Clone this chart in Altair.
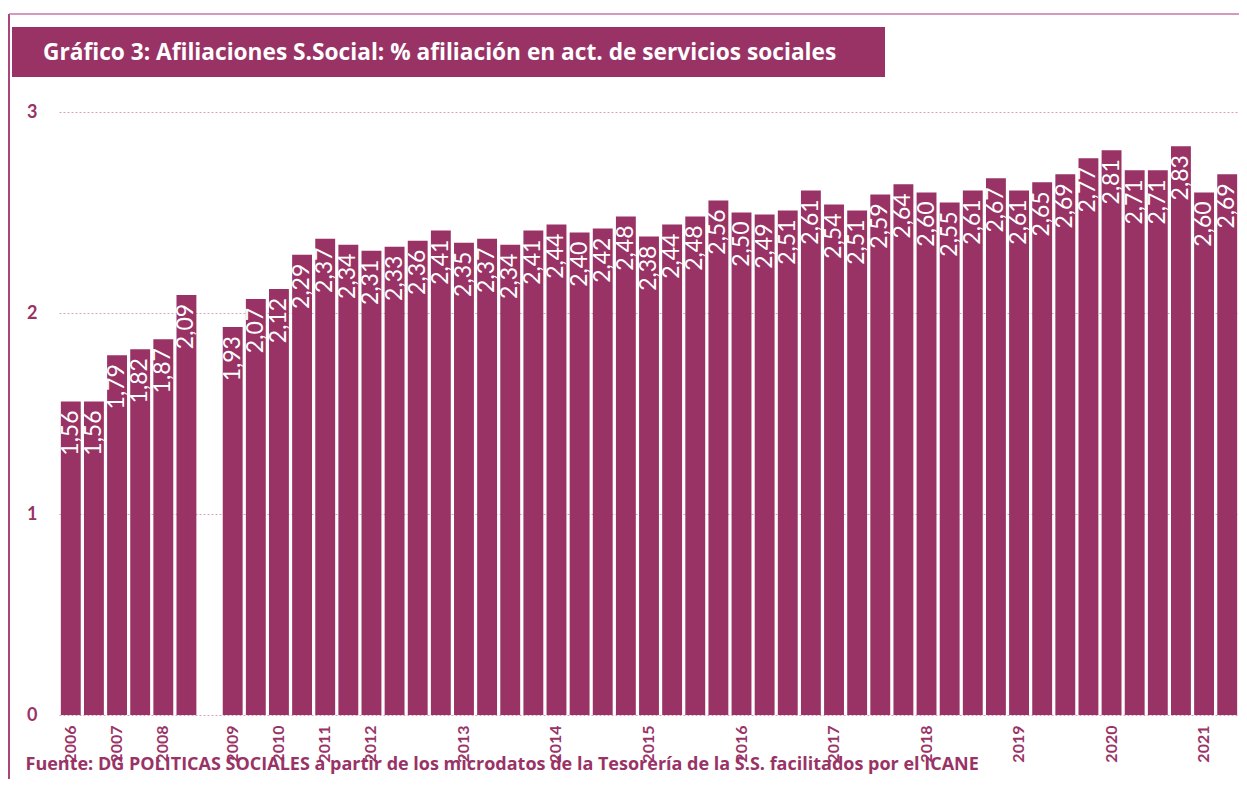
import altair as alt
import pandas as pd

PLUM = "#993366"

title_text = "Gráfico 3: Afiliaciones S.Social: % afiliación en act. de servicios sociales"
source_text = ("Fuente: DG POLITICAS SOCIALES a partir de los microdatos de la Tesorería "
               "de la S.S. facilitados por el ICANE")

# one slot per bar (semesters up to 2011, one empty slot, quarters from 2012)
periods = [
    "2006 S1", "2006 S2", "2007 S1", "2007 S2", "2008 S1", "2008 S2", " ",
    "2009 S1", "2009 S2", "2010 S1", "2010 S2", "2011 S1", "2011 S2",
    "2012 T1", "2012 T2", "2012 T3", "2012 T4",
    "2013 T1", "2013 T2", "2013 T3", "2013 T4",
    "2014 T1", "2014 T2", "2014 T3", "2014 T4",
    "2015 T1", "2015 T2", "2015 T3", "2015 T4",
    "2016 T1", "2016 T2", "2016 T3", "2016 T4",
    "2017 T1", "2017 T2", "2017 T3", "2017 T4",
    "2018 T1", "2018 T2", "2018 T3", "2018 T4",
    "2019 T1", "2019 T2", "2019 T3", "2019 T4",
    "2020 T1", "2020 T2", "2020 T3", "2020 T4",
    "2021 T1", "2021 T2",
]

values = [
    1.56, 1.56, 1.79, 1.82, 1.87, 2.09, None,
    1.93, 2.07, 2.12, 2.29, 2.37, 2.34,
    2.31, 2.33, 2.36, 2.41,
    2.35, 2.37, 2.34, 2.41,
    2.44, 2.40, 2.42, 2.48,
    2.38, 2.44, 2.48, 2.56,
    2.50, 2.49, 2.51, 2.61,
    2.54, 2.51, 2.59, 2.64,
    2.60, 2.55, 2.61, 2.67,
    2.61, 2.65, 2.69, 2.77,
    2.81, 2.71, 2.71, 2.83,
    2.60, 2.69,
]

tick_periods = ["2006 S1", "2007 S1", "2008 S1", "2009 S1", "2010 S1", "2011 S1",
                "2012 T1", "2013 T1", "2014 T1", "2015 T1", "2016 T1", "2017 T1",
                "2018 T1", "2019 T1", "2020 T1", "2021 T1"]

y_ticks = [0, 1, 2, 3]

df = pd.DataFrame({"periodo": periods, "valor": values})

W, H = 1180, 603

x_enc = alt.X(
    "periodo:N",
    sort=periods,
    scale=alt.Scale(paddingInner=0.14, paddingOuter=0.08),
    axis=alt.Axis(
        values=tick_periods,
        labelExpr="substring(datum.value, 0, 4)",
        labelAngle=270,
        labelFont="Lato",
        labelFontWeight="bold",
        labelFontSize=16,
        labelColor=PLUM,
        labelPadding=10,
        domain=False,
        ticks=False,
        grid=False,
        title=source_text,
        titleFont="Open Sans",
        titleFontSize=18,
        titleFontWeight="bold",
        titleColor=PLUM,
        titleAlign="left",
        titleAnchor="start",
        titleBaseline="alphabetic",
        titleX=-34,
        titleY=54,
    ),
)

y_enc = alt.Y(
    "valor:Q",
    scale=alt.Scale(domain=[0, 3], nice=False),
    axis=alt.Axis(
        values=y_ticks,
        format="d",
        labelFont="Lato",
        labelFontWeight="bold",
        labelFontSize=18,
        labelColor=PLUM,
        labelPadding=22,
        ticks=False,
        domain=False,
        grid=True,
        gridColor="#d9a0bd",
        gridDash=[2, 2],
        gridWidth=1,
        title=None,
    ),
)

base = alt.Chart(df).encode(x=x_enc, y=y_enc)

bars = base.mark_bar(color=PLUM)

labels = base.transform_calculate(
    etiqueta="replace(format(datum.valor, '.2f'), '.', ',')"
).mark_text(
    angle=270, align="right", baseline="middle", dx=-9,
    color="white", font="Lato", fontSize=23,
).encode(text="etiqueta:N")

deco = pd.DataFrame({"t": [title_text]})

title_box = alt.Chart(deco).mark_rect(color=PLUM).encode(
    x=alt.value(-47), x2=alt.value(826), y=alt.value(-85), y2=alt.value(-35)
)
title_label = alt.Chart(deco).mark_text(
    align="left", baseline="middle", color="white",
    font="Open Sans", fontWeight="bold", fontSize=22.7,
).encode(x=alt.value(-16), y=alt.value(-59), text="t:N")

frame_left = alt.Chart(deco).mark_rule(color="#a8467c", strokeWidth=2).encode(
    x=alt.value(-50), y=alt.value(-98), y2=alt.value(670)
)
frame_top = alt.Chart(deco).mark_rule(color="#c47aa2", strokeWidth=1.5).encode(
    x=alt.value(-50), x2=alt.value(W), y=alt.value(-98)
)

chart = alt.layer(
    frame_left, frame_top, title_box, title_label, bars, labels
).properties(
    width=W, height=H,
    autosize=alt.AutoSizeParams(type="none"),
    padding={"left": 51, "top": 104, "right": 0, "bottom": 64},
    background="white",
).configure_view(stroke=None)

chart.save("out.html", embed_options={"renderer": "svg", "actions": False})
